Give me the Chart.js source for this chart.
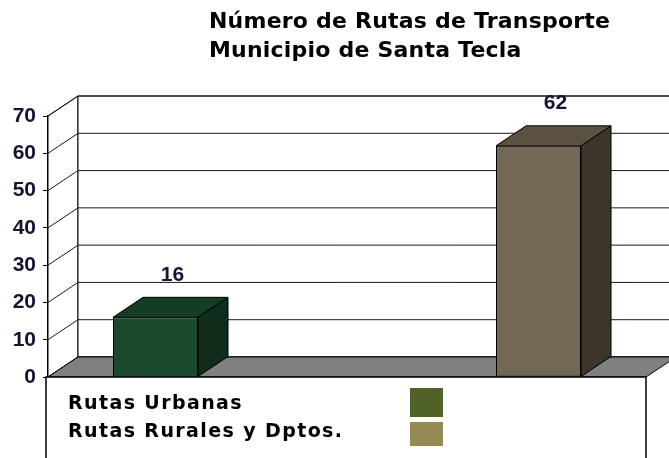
<!DOCTYPE html>
<html lang="es">
<head>
<meta charset="utf-8">
<title>Rutas de Transporte - Santa Tecla</title>
<script src="https://cdn.jsdelivr.net/npm/chart.js"></script>
<style>
  html, body { margin: 0; padding: 0; background: #fff; }
  canvas { display: block; }
</style>
</head>
<body>
<canvas id="myChart" width="669" height="458"></canvas>
<script>
const titleLines = ['Número de Rutas de Transporte', 'Municipio de Santa Tecla'];
const categories = ['Santa Tecla'];
const seriesNames = ['Rutas Urbanas', 'Rutas Rurales y Dptos.'];
const routeCounts = [16, 62];
const yTicks = [0, 10, 20, 30, 40, 50, 60, 70];

// column faces: front, top, side
const frontColors = ['#1a4a2e', '#736756'];
const topColors = ['#153d25', '#5a5142'];
const sideColors = ['#0e2d1a', '#3b352c'];
const legendColors = ['#4f6228', '#948a54'];

const DX = 30, DY = -20;   // depth offset of the 3d box
const numFont = '"Liberation Sans", Arial, sans-serif';
const textFont = '"DejaVu Sans", "Noto Sans", sans-serif';

function poly(ctx, pts, fill) {
  ctx.beginPath();
  ctx.moveTo(pts[0][0], pts[0][1]);
  for (let i = 1; i < pts.length; i++) ctx.lineTo(pts[i][0], pts[i][1]);
  ctx.closePath();
  if (fill) { ctx.fillStyle = fill; ctx.fill(); }
  ctx.stroke();
}

// spread the letters of a line so it fills the given width
function spacingFor(ctx, text, width) {
  ctx.letterSpacing = '0px';
  const w = ctx.measureText(text).width;
  return (width - w) / (text.length - 1);
}

const box3d = {
  id: 'box3d',
  beforeDatasetsDraw(chart) {
    const { ctx, chartArea: a } = chart;
    const y = chart.scales.y;
    ctx.save();
    ctx.lineWidth = 1;
    ctx.strokeStyle = '#000';
    // side wall and back wall
    poly(ctx, [[a.left, a.top], [a.left + DX, a.top + DY], [a.left + DX, a.bottom + DY], [a.left, a.bottom]], '#fff');
    poly(ctx, [[a.left + DX, a.top + DY], [a.right + DX, a.top + DY], [a.right + DX, a.bottom + DY], [a.left + DX, a.bottom + DY]], '#fff');
    ctx.strokeStyle = '#1a1a1a';
    yTicks.forEach(v => {
      const py = y.getPixelForValue(v);
      ctx.beginPath();
      ctx.moveTo(a.left, py);
      ctx.lineTo(a.left + DX, py + DY);
      ctx.lineTo(a.right + DX, py + DY);
      ctx.stroke();
    });
    // floor
    ctx.strokeStyle = '#000';
    poly(ctx, [[a.left, a.bottom], [a.left + DX, a.bottom + DY], [a.right + DX, a.bottom + DY], [a.right, a.bottom]], '#808080');
    // legend box under the floor
    ctx.lineWidth = 1.5;
    ctx.fillStyle = '#fff';
    ctx.fillRect(a.left - 2, a.bottom, a.right - a.left + 2, 100);
    ctx.strokeRect(a.left - 2, a.bottom, a.right - a.left + 2, 100);
    ctx.restore();
  },
  afterDatasetsDraw(chart) {
    const { ctx } = chart;
    ctx.save();
    ctx.lineWidth = 1;
    ctx.strokeStyle = '#000';
    chart.data.datasets.forEach((ds, i) => {
      chart.getDatasetMeta(i).data.forEach(bar => {
        const l = bar.x - bar.width / 2, r = bar.x + bar.width / 2;
        poly(ctx, [[l, bar.y], [l + DX, bar.y + DY], [r + DX, bar.y + DY], [r, bar.y]], topColors[i]);
        poly(ctx, [[r, bar.y], [r + DX, bar.y + DY], [r + DX, bar.base + DY], [r, bar.base]], sideColors[i]);
        // value label above the column top
        ctx.font = 'bold 21px ' + numFont;
        ctx.fillStyle = '#15152e';
        ctx.textAlign = 'center';
        ctx.textBaseline = 'bottom';
        ctx.fillText(String(ds.data[0]), bar.x + DX / 2 + 2, bar.y + DY - 12);
      });
    });
    ctx.restore();
  },
  afterDraw(chart) {
    const { ctx } = chart;
    ctx.save();
    ctx.fillStyle = '#000';
    ctx.textAlign = 'left';
    ctx.textBaseline = 'alphabetic';
    // heading
    ctx.font = 'bold 22px ' + textFont;
    const ts = spacingFor(ctx, titleLines[0], 401);
    ctx.letterSpacing = ts + 'px';
    ctx.fillText(titleLines[0], 209, 28);
    ctx.fillText(titleLines[1], 209, 57);
    // legend rows
    const rowBase = [409, 437];
    const swTop = [388, 422], swH = [29, 24];
    ctx.font = 'bold 19px ' + textFont;
    const ls = spacingFor(ctx, seriesNames[1], 274);
    seriesNames.forEach((name, i) => {
      ctx.letterSpacing = ls + 'px';
      ctx.fillStyle = '#000';
      ctx.fillText(name, 68, rowBase[i]);
      ctx.fillStyle = legendColors[i];
      ctx.fillRect(410, swTop[i], 33, swH[i]);
    });
    ctx.restore();
  }
};

new Chart(document.getElementById('myChart'), {
  type: 'bar',
  data: {
    labels: categories,
    datasets: seriesNames.map((name, i) => ({
      label: name,
      data: [routeCounts[i]],
      backgroundColor: frontColors[i],
      borderColor: '#000',
      borderWidth: 1,
      borderSkipped: false,
      categoryPercentage: 1.281,
      barPercentage: 0.222
    }))
  },
  options: {
    responsive: false,
    animation: false,
    devicePixelRatio: 1,
    layout: { padding: { top: 116, bottom: 81, left: 0, right: 23 } },
    plugins: {
      legend: { display: false },
      title: { display: false },
      tooltip: { enabled: false }
    },
    scales: {
      x: { display: false },
      y: {
        min: 0,
        max: 70,
        afterBuildTicks(scale) { scale.ticks = yTicks.map(v => ({ value: v })); },
        afterFit(scale) { scale.width = 48; },
        ticks: {
          color: '#15152e',
          padding: 7,
          font: { family: numFont, size: 21, weight: 'bold' }
        },
        grid: { drawOnChartArea: false, tickLength: 5, color: '#000' },
        border: { display: true, color: '#000', width: 1.5 }
      }
    }
  },
  plugins: [box3d]
});
</script>
</body>
</html>
